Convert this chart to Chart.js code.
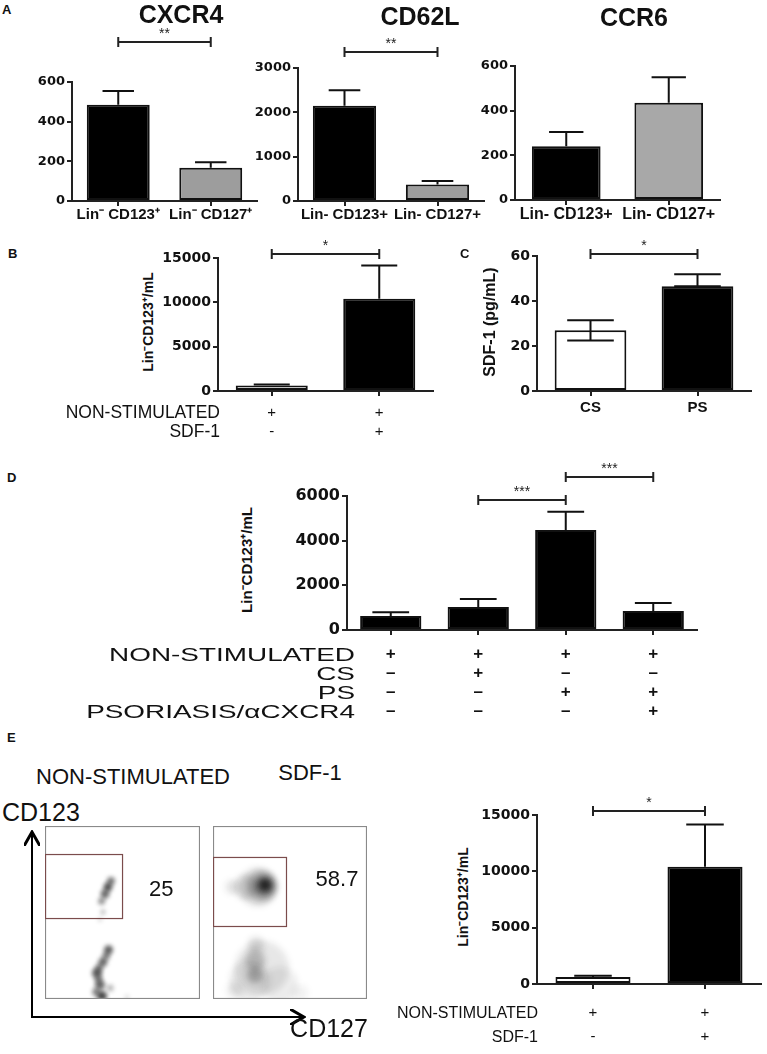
<!DOCTYPE html>
<html>
<head>
<meta charset="utf-8">
<script src="https://cdn.jsdelivr.net/npm/chart.js@4.4.1/dist/chart.umd.min.js"></script>
<style>
  body { margin: 0; width: 767px; height: 1054px; position: relative; overflow: hidden; background: #fff;
         font-family: "Liberation Sans", Arial, sans-serif; color: #111; }
  canvas { position: absolute; }
  .t { position: absolute; white-space: nowrap; line-height: 1; }
</style>
</head>
<body>
<svg style="position:absolute;left:0;top:0" width="767" height="1054">
  <defs>
    <marker id="ah" markerWidth="8" markerHeight="8" refX="6" refY="4" orient="auto">
      <path d="M0,0 L7,4 L0,8" fill="none" stroke="#000" stroke-width="1.5"/>
    </marker>
  </defs>
  <line x1="32" y1="1017" x2="32" y2="834" stroke="#000" stroke-width="2" marker-end="url(#ah)"/>
  <line x1="31" y1="1017" x2="302" y2="1017" stroke="#000" stroke-width="2" marker-end="url(#ah)"/>
</svg>
<script>
// ---- data ----
// Panel A
const aLabelsSup = ['Lin⁻ CD123⁺', 'Lin⁻ CD127⁺'];
const aLabels = ['Lin- CD123+', 'Lin- CD127+'];
const cxcr4Ticks = [0, 200, 400, 600];
const cxcr4Mean = [485, 168];
const cxcr4Err = [555, 196];
const cd62lTicks = [0, 1000, 2000, 3000];
const cd62lMean = [2150, 370];
const cd62lErr = [2500, 450];
const ccr6Ticks = [0, 200, 400, 600];
const ccr6Mean = [241, 436];
const ccr6Err = [305, 550];

// Panel B and E (same experiment)
const sdfRowNames = ['NON-STIMULATED', 'SDF-1'];
const sdfRows = [['+', '-'], ['+', '+']];
const sdfTicks = [0, 5000, 10000, 15000];
const sdfMean = [620, 10400];
const sdfErr = [740, 14150];

// Panel C
const cLabels = ['CS', 'PS'];
const cTicks = [0, 20, 40, 60];
const cMean = [27, 46.6];
const cErrHigh = [31.4, 51.9];
const cErrLow = [22.4, 46.6];

// Panel D
const dRowNames = ['NON-STIMULATED', 'CS', 'PS', 'PSORIASIS/αCXCR4'];
const dRows = [['+', '–', '–', '–'], ['+', '+', '–', '–'], ['+', '–', '+', '–'], ['+', '–', '+', '+']];
const dTicks = [0, 2000, 4000, 6000];
const dMean = [630, 1030, 4480, 850];
const dErr = [800, 1390, 5290, 1210];

// significance brackets: [from, to, value, stars]
const cxcr4Sig = [[0, 1, 802, '**']];
const cd62lSig = [[0, 1, 3364, '**']];
const sdfSigB = [[0, 1, 15450, '*']];
const sdfSigE = [[0, 1, 15350, '*']];
const cSig = [[0, 1, 60.8, '*']];
const dSig = [[1, 2, 5820, '***'], [2, 3, 6850, '***']];

// Panel E flow plots (density spots, x/y in % of plot, r, density)
const gatePct = ['25', '58.7'];
const nsX = [36.5, 38.7, 40.6, 42.6, 37.4, 35.5, 41.0, 39.5, 37.4, 35.0, 33.5, 34.5, 35.5, 33.0, 36.8, 42.0, 52.9];
const nsY = [56.5, 60.7, 64.7, 68.2, 50.3, 46.0, 28.5, 25.0, 21.4, 18.0, 15.0, 11.5, 8.1, 4.0, 1.7, 6.4, 1.2];
const nsR = [3.5, 4.5, 4.5, 4, 2.5, 2, 4.5, 4, 4.5, 4, 5, 4, 5, 4, 5, 3.5, 2];
const nsD = [0.45, 0.6, 0.7, 0.55, 0.3, 0.2, 0.65, 0.5, 0.6, 0.5, 0.65, 0.5, 0.6, 0.5, 0.75, 0.3, 0.2];
const sdX = [12.3, 20.8, 29.2, 31.8, 33.1, 33.8, 33.8, 31.8, 24.0, 43.5, 27.3, 27.3, 27.9, 14.3, 56.5];
const sdY = [64.7, 64.7, 64.7, 65.3, 65.3, 65.9, 65.9, 17.9, 11.0, 8.1, 22.5, 13.9, 31.2, 5.2, 3.5];
const sdR = [7, 12, 19, 15, 10, 6, 3, 27, 20, 18, 10, 8, 8, 8, 8];
const sdD = [0.1, 0.12, 0.15, 0.25, 0.4, 0.7, 0.95, 0.1, 0.1, 0.08, 0.22, 0.28, 0.14, 0.1, 0.06];
const nsGate = [0, 46.8, 49.7, 83.8];
const sdGate = [0, 42.2, 47.4, 82.1];

// ---- plugins ----
const errorBars = {
  id: 'errorBars',
  afterDatasetsDraw(chart, args, opts) {
    if (!opts.upper) return;
    const ctx = chart.ctx, y = chart.scales.y;
    const meta = chart.getDatasetMeta(0);
    ctx.save();
    ctx.strokeStyle = '#111';
    ctx.lineWidth = 2;
    meta.data.forEach((bar, i) => {
      const hi = y.getPixelForValue(opts.upper[i]);
      const lo = y.getPixelForValue(opts.lower ? opts.lower[i] : chart.data.datasets[0].data[i]);
      const half = bar.width * (opts.cap || 0.5) / 2;
      ctx.beginPath();
      ctx.moveTo(bar.x, lo); ctx.lineTo(bar.x, hi);
      ctx.moveTo(bar.x - half, hi); ctx.lineTo(bar.x + half, hi);
      if (opts.lower) { ctx.moveTo(bar.x - half, lo); ctx.lineTo(bar.x + half, lo); }
      ctx.stroke();
    });
    ctx.restore();
  }
};

const sigBars = {
  id: 'sigBars',
  afterDatasetsDraw(chart, args, opts) {
    if (!opts.list) return;
    const ctx = chart.ctx, y = chart.scales.y;
    const meta = chart.getDatasetMeta(0);
    ctx.save();
    ctx.strokeStyle = '#222';
    ctx.fillStyle = '#222';
    ctx.lineWidth = 2;
    ctx.font = '14px "Liberation Sans"';
    ctx.textAlign = 'center';
    ctx.textBaseline = 'bottom';
    opts.list.forEach(([a, b, v, s]) => {
      const x1 = meta.data[a].x, x2 = meta.data[b].x, yy = Math.round(y.getPixelForValue(v));
      ctx.beginPath();
      ctx.moveTo(x1, yy); ctx.lineTo(x2, yy);
      ctx.moveTo(x1, yy - 5); ctx.lineTo(x1, yy + 5);
      ctx.moveTo(x2, yy - 5); ctx.lineTo(x2, yy + 5);
      ctx.stroke();
      ctx.fillText(s, (x1 + x2) / 2, yy - 1);
    });
    ctx.restore();
  }
};

const flowFrame = {
  id: 'flowFrame',
  beforeDatasetsDraw(chart, args, opts) {
    if (!opts.gate) return;
    chart.ctx.save();
    chart.ctx.filter = 'blur(' + opts.blur + 'px)';
  },
  afterDatasetsDraw(chart, args, opts) {
    if (!opts.gate) return;
    const ctx = chart.ctx, a = chart.chartArea, xs = chart.scales.x, ys = chart.scales.y;
    ctx.restore();
    ctx.save();
    ctx.strokeStyle = '#8a8a8a';
    ctx.lineWidth = 1.2;
    ctx.strokeRect(a.left + 0.5, a.top + 0.5, a.right - a.left - 1, a.bottom - a.top - 1);
    const [gx0, gy0, gx1, gy1] = opts.gate;
    const px0 = xs.getPixelForValue(gx0), px1 = xs.getPixelForValue(gx1);
    const py0 = ys.getPixelForValue(gy0), py1 = ys.getPixelForValue(gy1);
    ctx.strokeStyle = '#7b4c4c';
    ctx.strokeRect(px0 + 0.5, py1 + 0.5, px1 - px0, py0 - py1);
    ctx.fillStyle = '#111';
    ctx.font = '22px "Liberation Sans"';
    ctx.textAlign = 'center';
    ctx.textBaseline = 'middle';
    ctx.fillText(opts.pct, xs.getPixelForValue(opts.pctAt[0]), ys.getPixelForValue(opts.pctAt[1]));
    ctx.restore();
  }
};

Chart.register(errorBars, sigBars, flowFrame);
Chart.defaults.font.family = '"Liberation Sans", Arial, sans-serif';
Chart.defaults.color = '#111';

function makeCanvas(left, top, w, h) {
  const cv = document.createElement('canvas');
  cv.width = w; cv.height = h;
  cv.style.left = left + 'px'; cv.style.top = top + 'px';
  cv.style.width = w + 'px'; cv.style.height = h + 'px';
  document.body.appendChild(cv);
  return cv;
}

// box: plot area in page pixels + margins around it
function barChart(box, cfg) {
  const w = box.ml + (box.right - box.left) + box.mr;
  const h = box.mt + (box.bottom - box.top) + box.mb;
  const cv = makeCanvas(box.left - box.ml, box.top - box.mt, w, h);
  const axisGrid = { display: true, drawOnChartArea: false, drawTicks: true, tickLength: 5, color: '#222', lineWidth: 2, offset: false };
  return new Chart(cv, {
    type: 'bar',
    data: {
      labels: cfg.labels,
      datasets: [{
        data: cfg.mean,
        backgroundColor: cfg.colors,
        borderColor: '#111',
        borderWidth: 2,
        borderSkipped: false,
        barPercentage: cfg.barPct || 0.68,
        categoryPercentage: 1
      }]
    },
    options: {
      responsive: false,
      animation: false,
      devicePixelRatio: 1,
      layout: { padding: { top: box.mt, right: box.mr, left: 0, bottom: 0 } },
      plugins: {
        legend: { display: false },
        tooltip: { enabled: false },
        errorBars: { upper: cfg.err, lower: cfg.errLow, cap: cfg.cap },
        sigBars: { list: cfg.sig }
      },
      scales: {
        x: {
          grid: axisGrid,
          border: { display: true, color: '#222', width: 2 },
          ticks: { color: '#111', font: cfg.xFont, padding: cfg.xPad, autoSkip: false, maxRotation: 0 },
          afterFit: s => { s.height = box.mb; }
        },
        y: {
          min: cfg.ticks[0],
          max: cfg.ticks[cfg.ticks.length - 1],
          grid: axisGrid,
          border: { display: true, color: '#222', width: 2 },
          afterBuildTicks: s => { s.ticks = cfg.ticks.map(v => ({ value: v })); },
          ticks: { color: '#111', padding: 2, callback: v => String(v),
                   font: { family: '"DejaVu Sans"', weight: 'bold', size: cfg.yFontSize || 14 } },
          afterFit: s => { s.width = box.ml; }
        }
      }
    }
  });
}

function flowChart(box, xs, ys, rs, ds, gate, pct, pctAt, blur) {
  const cv = makeCanvas(box.left, box.top, box.w, box.h);
  return new Chart(cv, {
    type: 'bubble',
    data: {
      datasets: [{
        data: xs.map((x, i) => ({ x: x, y: ys[i], r: rs[i] })),
        backgroundColor: ds.map(d => 'rgba(15,15,15,' + d + ')'),
        borderWidth: 0
      }]
    },
    options: {
      responsive: false,
      animation: false,
      devicePixelRatio: 1,
      layout: { padding: 0, autoPadding: false },
      plugins: {
        legend: { display: false },
        tooltip: { enabled: false },
        flowFrame: { gate: gate, pct: pct, pctAt: pctAt, blur: blur }
      },
      scales: {
        x: { display: false, min: 0, max: 100 },
        y: { display: false, min: 0, max: 100 }
      }
    }
  });
}

function txt(s, x, y, css, anchor, extra) {
  const d = document.createElement('div');
  d.className = 't';
  d.textContent = s;
  d.style.left = x + 'px';
  d.style.top = y + 'px';
  d.style.cssText += css;
  const tf = { c: 'translate(-50%,-50%)', l: 'translate(0,-50%)', r: 'translate(-100%,-50%)',
               v: 'translate(-50%,-50%) rotate(-90deg)' }[anchor || 'c'];
  d.style.transform = tf + (extra || '');
  if (extra) d.style.transformOrigin = 'right center';
  document.body.appendChild(d);
}

const gray = '#9d9d9d';

// Panel A
barChart({ left: 72, right: 257, top: 82, bottom: 201, ml: 44, mt: 62, mr: 6, mb: 28 },
  { labels: aLabelsSup, mean: cxcr4Mean, err: cxcr4Err, colors: ['#000', gray], ticks: cxcr4Ticks,
    sig: cxcr4Sig, xFont: { size: 15, weight: 'bold' }, xPad: 0, yFontSize: 13 });
barChart({ left: 298, right: 484, top: 68, bottom: 201, ml: 50, mt: 44, mr: 12, mb: 28 },
  { labels: aLabels, mean: cd62lMean, err: cd62lErr, colors: ['#000', gray], ticks: cd62lTicks,
    sig: cd62lSig, xFont: { size: 15, weight: 'bold' }, xPad: 0, yFontSize: 13 });
barChart({ left: 515, right: 720, top: 66, bottom: 200, ml: 40, mt: 10, mr: 30, mb: 28 },
  { labels: aLabels, mean: ccr6Mean, err: ccr6Err, colors: ['#000', '#a8a8a8'], ticks: ccr6Ticks,
    xFont: { size: 16, weight: 'bold' }, xPad: 0, yFontSize: 13, barPct: 0.67 });

// Panel B
barChart({ left: 218, right: 433, top: 258, bottom: 391, ml: 60, mt: 24, mr: 8, mb: 55 },
  { labels: sdfRows, mean: sdfMean, err: sdfErr, colors: ['#fff', '#000'], ticks: sdfTicks,
    sig: sdfSigB, xFont: { size: 15, lineHeight: '19px' }, xPad: 7, barPct: 0.67 });

// Panel C
barChart({ left: 537, right: 751, top: 256, bottom: 391, ml: 32, mt: 24, mr: 10, mb: 30 },
  { labels: cLabels, mean: cMean, err: cErrHigh, errLow: cErrLow, colors: ['#fff', '#000'], ticks: cTicks,
    sig: cSig, xFont: { size: 15, weight: 'bold', lineHeight: '18px' }, xPad: 3, barPct: 0.67, cap: 0.65 });

// Panel D
barChart({ left: 347, right: 697, top: 496, bottom: 630, ml: 65, mt: 42, mr: 20, mb: 95 },
  { labels: dRows, mean: dMean, err: dErr, colors: '#000', ticks: dTicks,
    sig: dSig, xFont: { size: 17, weight: 'bold', lineHeight: '19px' }, xPad: 10, barPct: 0.7, yFontSize: 16, cap: 0.6 });

// Panel E bar chart
barChart({ left: 537, right: 761, top: 815, bottom: 984, ml: 60, mt: 24, mr: 4, mb: 66 },
  { labels: sdfRows, mean: sdfMean, err: sdfErr, colors: ['#fff', '#000'], ticks: sdfTicks,
    sig: sdfSigE, xFont: { size: 15, lineHeight: '24px' }, xPad: 12, barPct: 0.67 });

// Panel E flow plots
flowChart({ left: 45, top: 826, w: 155, h: 173 }, nsX, nsY, nsR, nsD, nsGate, gatePct[0], [75, 63], 2);
flowChart({ left: 213, top: 826, w: 154, h: 173 }, sdX, sdY, sdR, sdD, sdGate, gatePct[1], [80.5, 68.8], 3);

// ---- text ----
const panel = 'font-weight:bold;font-size:13px;';
txt('A', 2, 9, panel, 'l');
txt('B', 8, 253, panel, 'l');
txt('C', 460, 253, panel, 'l');
txt('D', 7, 477, panel, 'l');
txt('E', 7, 737, panel, 'l');

const big = 'font-weight:bold;font-size:25px;';
txt('CXCR4', 181, 14, big);
txt('CD62L', 420, 16, big);
txt('CCR6', 634, 17, big);

const ytitle = 'font-weight:bold;font-size:14px;';
txt('Lin⁻CD123⁺/mL', 148, 322, ytitle, 'v');
txt('SDF-1 (pg/mL)', 490, 322, 'font-weight:bold;font-size:16px;', 'v');
txt('Lin⁻CD123⁺/mL', 246, 560, 'font-weight:bold;font-size:15px;', 'v');
txt('Lin⁻CD123⁺/mL', 463, 897, ytitle, 'v');

sdfRowNames.forEach((s, i) => txt(s, 220, 413 + i * 19, 'font-size:17.5px;', 'r'));
sdfRowNames.forEach((s, i) => txt(s, 538, 1013 + i * 24, 'font-size:16px;', 'r'));
dRowNames.forEach((s, i) => txt(s, 355, 655 + i * 19, 'font-size:18px;', 'r', ' scaleX(1.55)'));

const flowTxt = 'font-size:22px;';
txt('NON-STIMULATED', 133, 777, flowTxt);
txt('SDF-1', 310, 773, flowTxt);
txt('CD123', 2, 812, 'font-size:25px;', 'l');
txt('CD127', 329, 1028, 'font-size:25px;');
</script>
</body>
</html>
